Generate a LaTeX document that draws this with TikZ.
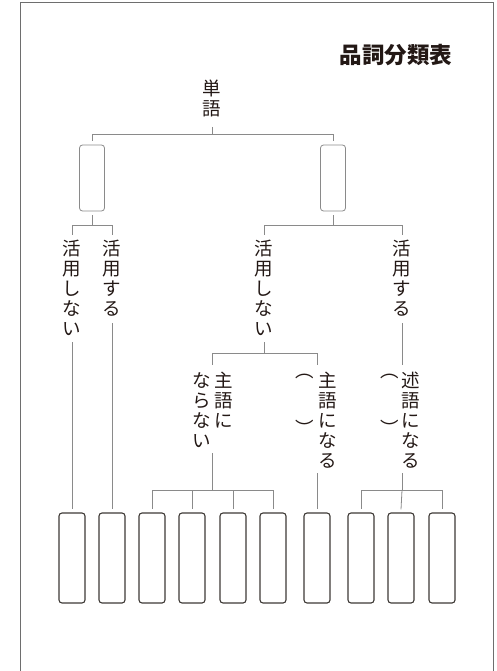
\documentclass[tikz,border=0pt]{standalone}
\usepackage{fontspec}
\newfontfamily\jp{Noto Sans CJK JP}
\definecolor{ink}{HTML}{231815}
\definecolor{linegray}{HTML}{8A8A8A}
\definecolor{framegray}{HTML}{6E6E6E}
\definecolor{boxdark}{HTML}{3D3935}
\tikzset{
  vt/.style={font=\jp\fontsize{18.5}{20}\selectfont, align=center, inner sep=0pt, anchor=north, text=ink},
  paren/.style={font=\jp\fontsize{18.5}{20}\selectfont, inner sep=0pt, text=ink},
  conn/.style={draw=linegray, line width=0.8pt},
  upbox/.style={draw=linegray, line width=0.8pt, rounded corners=3pt, minimum width=25pt, minimum height=66pt, inner sep=0pt},
  lowbox/.style={draw=boxdark, line width=1.1pt, rounded corners=3pt, minimum width=26pt, minimum height=90pt, inner sep=0pt},
}
\begin{document}
\begin{tikzpicture}[x=1pt,y=-1pt]
\useasboundingbox (0,0) rectangle (497,671);
% frame
\draw[framegray, line width=0.9pt] (20,671) -- (20,2) -- (493,2) -- (493,671);
% title
\node[font=\jp\bfseries\fontsize{22.5}{24}\selectfont, text=ink, inner sep=0pt] (title) at (396,55) {品詞分類表};
% root
\node[vt] (tango) at (212,80) {単\\語};
\coordinate (t0) at (212,127);
\coordinate (j0) at (212,134);
\node[upbox] (U1) at (92,178) {};
\node[upbox] (U2) at (333,178) {};
\draw[conn] (t0) -- (j0);
\draw[conn] (j0) -| ([yshift=4pt]U1.north);
\draw[conn] (j0) -| ([yshift=4pt]U2.north);
% bottom boxes
\foreach \i/\x in {1/72,2/112,3/152,4/192,5/233,6/273,7/317,8/361,9/401,10/442}{
  \node[lowbox] (B\i) at (\x,558) {};
}
% left subtree
\node[vt] (LA) at (72,240) {活\\用\\し\\な\\い};
\node[vt] (LB) at (112,240) {活\\用\\す\\る};
\coordinate (jl) at (92,225);
\draw[conn] ([yshift=-4pt]U1.south) -- (jl);
\draw[conn] (jl) -| (72,235);
\draw[conn] (jl) -| (112,235);
\coordinate (la0) at (72,342);
\coordinate (lb0) at (112,323);
\draw[conn] (la0) -- ([yshift=3pt]B1.north);
\draw[conn] (lb0) -- ([yshift=3pt]B2.north);
% right subtree
\node[vt] (RA) at (264,240) {活\\用\\し\\な\\い};
\node[vt] (RB) at (402,240) {活\\用\\す\\る};
\coordinate (jr) at (333,225);
\draw[conn] ([yshift=-4pt]U2.south) -- (jr);
\draw[conn] (jr) -| (264,235);
\draw[conn] (jr) -| (402,235);
% 活用しない branch
\coordinate (ra0) at (264,342);
\coordinate (jn) at (264,353);
\draw[conn] (ra0) -- (jn);
\draw[conn] (jn) -| (212,365);
\draw[conn] (jn) -| (317,365);
\node[vt] (SN1) at (224,372) {主\\語\\に};
\node[vt] (SN2) at (202,372) {な\\ら\\な\\い};
\node[vt] (SY) at (328,372) {主\\語\\に\\な\\る};
\node[paren] (SYp1) at (305,376) {︵};
\node[paren] (SYp2) at (305,428) {︶};
\coordinate (sn0) at (212,453);
\coordinate (jb) at (212,490);
\draw[conn] (sn0) -- (jb);
\draw[conn] (jb) -| ([yshift=3pt]B3.north);
\draw[conn] (jb) -| ([yshift=3pt]B6.north);
\draw[conn] (B4.north |- jb) -- ([yshift=3pt]B4.north);
\draw[conn] (B5.north |- jb) -- ([yshift=3pt]B5.north);
\coordinate (sy0) at (317,473);
\draw[conn] (sy0) -- ([yshift=3pt]B7.north);
% 活用する branch
\coordinate (rb0) at (402,323);
\coordinate (rb1) at (402,365);
\draw[conn] (rb0) -- (rb1);
\node[vt] (JY) at (411,372) {述\\語\\に\\な\\る};
\node[paren] (JYp1) at (390,376) {︵};
\node[paren] (JYp2) at (390,428) {︶};
\coordinate (jy0) at (402,473);
\coordinate (jc) at (402,490);
\draw[conn] (jy0) -- (jc);
\draw[conn] (jc) -| ([yshift=3pt]B8.north);
\draw[conn] (jc) -| ([yshift=3pt]B10.north);
\draw[conn] (jc) -- ([yshift=3pt]B9.north);
\end{tikzpicture}
\end{document}
